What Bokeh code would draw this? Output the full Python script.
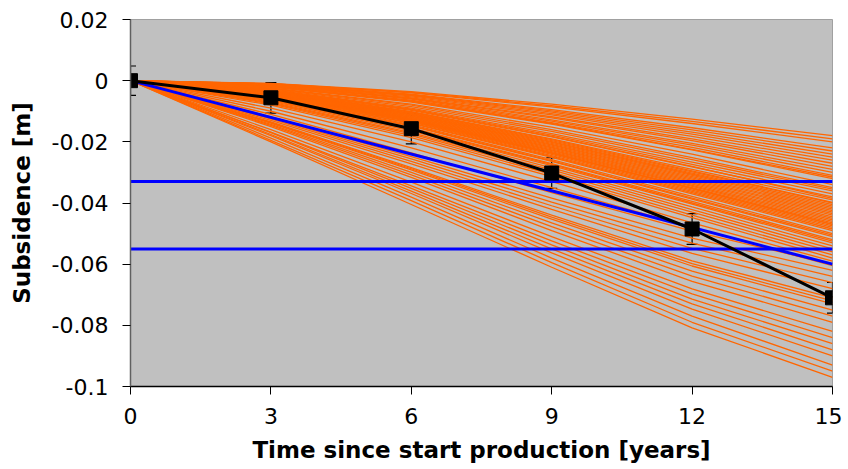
from bokeh.plotting import figure
from bokeh.models import FixedTicker, CustomJSTickFormatter, ColumnDataSource, Whisker, TeeHead, Range1d
from bokeh.embed import file_html
from bokeh.resources import INLINE

# time axis (years)
years = [0, 3, 6, 9, 12, 15]
x_ticks = [0, 3, 6, 9, 12, 15]
y_ticks = [-0.1, -0.08, -0.06, -0.04, -0.02, 0, 0.02]

# measured subsidence with error bars
measured = [0.0, -0.0056, -0.0157, -0.0302, -0.0485, -0.0710]
measured_err = [0.0048, 0.0050, 0.0050, 0.0050, 0.0050, 0.0050]

# reference lines
trend_line = [0.0, -0.060]          # at years 0 and 15
threshold_upper = -0.033
threshold_lower = -0.055

# ensemble of model realisations: values at years 3, 6, 9, 12, 15 (all start at 0)
ensemble = [
    [-0.0009, -0.0036, -0.0077, -0.0126, -0.018],
    [-0.0010, -0.0038, -0.0082, -0.0133, -0.019],
    [-0.0010, -0.0040, -0.0086, -0.0140, -0.020],
    [-0.0011, -0.0044, -0.0095, -0.0154, -0.022],
    [-0.0011, -0.0046, -0.0099, -0.0161, -0.023],
    [-0.0012, -0.0048, -0.0103, -0.0168, -0.024],
    [-0.0013, -0.0050, -0.0108, -0.0175, -0.025],
    [-0.0014, -0.0053, -0.0112, -0.0182, -0.026],
    [-0.0015, -0.0056, -0.0118, -0.0190, -0.027],
    [-0.0016, -0.0058, -0.0122, -0.0196, -0.028],
    [-0.0015, -0.0060, -0.0128, -0.0205, -0.029],
    [-0.0018, -0.0064, -0.0132, -0.0211, -0.030],
    [-0.0019, -0.0067, -0.0137, -0.0218, -0.031],
    [-0.0020, -0.0068, -0.0140, -0.0225, -0.0315],
    [-0.0021, -0.0070, -0.0142, -0.0226, -0.032],
    [-0.0024, -0.0077, -0.0152, -0.0240, -0.034],
    [-0.0025, -0.0080, -0.0160, -0.0252, -0.035],
    [-0.0027, -0.0085, -0.0166, -0.0258, -0.0355],
    [-0.0029, -0.0090, -0.0173, -0.0266, -0.036],
    [-0.0030, -0.0093, -0.0178, -0.0274, -0.037],
    [-0.0032, -0.0097, -0.0184, -0.0282, -0.038],
    [-0.0031, -0.0095, -0.0182, -0.0280, -0.0385],
    [-0.0033, -0.0101, -0.0190, -0.0290, -0.039],
    [-0.0034, -0.0102, -0.0193, -0.0295, -0.0398],
    [-0.0035, -0.0104, -0.0196, -0.0298, -0.040],
    [-0.0036, -0.0106, -0.0199, -0.0302, -0.0405],
    [-0.0037, -0.0108, -0.0202, -0.0306, -0.041],
    [-0.0038, -0.0110, -0.0205, -0.0310, -0.0415],
    [-0.0038, -0.0111, -0.0208, -0.0314, -0.042],
    [-0.0039, -0.0113, -0.0211, -0.0318, -0.0425],
    [-0.0040, -0.0115, -0.0214, -0.0322, -0.043],
    [-0.0041, -0.0117, -0.0217, -0.0326, -0.0435],
    [-0.0042, -0.0119, -0.0220, -0.0330, -0.044],
    [-0.0043, -0.0121, -0.0223, -0.0334, -0.0445],
    [-0.0044, -0.0123, -0.0226, -0.0338, -0.045],
    [-0.0045, -0.0125, -0.0229, -0.0342, -0.0455],
    [-0.0046, -0.0127, -0.0232, -0.0346, -0.046],
    [-0.0047, -0.0129, -0.0235, -0.0350, -0.0465],
    [-0.0048, -0.0131, -0.0238, -0.0354, -0.047],
    [-0.0048, -0.0130, -0.0236, -0.0352, -0.0470],
    [-0.0049, -0.0133, -0.0241, -0.0358, -0.0475],
    [-0.0050, -0.0135, -0.0245, -0.0362, -0.048],
    [-0.0052, -0.0138, -0.0248, -0.0366, -0.0485],
    [-0.0053, -0.0140, -0.0251, -0.0370, -0.049],
    [-0.0055, -0.0144, -0.0258, -0.0378, -0.050],
    [-0.0057, -0.0147, -0.0262, -0.0384, -0.0505],
    [-0.0058, -0.0149, -0.0264, -0.0387, -0.051],
    [-0.0061, -0.0154, -0.0271, -0.0395, -0.052],
    [-0.0062, -0.0156, -0.0274, -0.0400, -0.0525],
    [-0.0064, -0.0159, -0.0278, -0.0404, -0.053],
    [-0.0067, -0.0164, -0.0285, -0.0413, -0.054],
    [-0.0070, -0.0170, -0.0292, -0.0422, -0.055],
    [-0.0073, -0.0174, -0.0299, -0.0430, -0.056],
    [-0.0076, -0.0180, -0.0306, -0.0440, -0.057],
    [-0.0080, -0.0186, -0.0314, -0.0448, -0.058],
    [-0.0090, -0.0200, -0.0330, -0.0465, -0.059],
    [-0.0110, -0.0236, -0.0366, -0.0492, -0.060],
    [-0.0100, -0.0220, -0.0350, -0.0480, -0.0605],
    [-0.0118, -0.0248, -0.0384, -0.0515, -0.062],
    [-0.0122, -0.0256, -0.0397, -0.0531, -0.064],
    [-0.0125, -0.0264, -0.0409, -0.0548, -0.066],
    [-0.0130, -0.0272, -0.0421, -0.0565, -0.068],
    [-0.0135, -0.0284, -0.0440, -0.0589, -0.071],
    [-0.0137, -0.0288, -0.0446, -0.0598, -0.072],
    [-0.0139, -0.0292, -0.0453, -0.0606, -0.073],
    [-0.0143, -0.0300, -0.0465, -0.0623, -0.075],
    [-0.0146, -0.0308, -0.0477, -0.0639, -0.077],
    [-0.0150, -0.0316, -0.0490, -0.0656, -0.079],
    [-0.0160, -0.0332, -0.0510, -0.0681, -0.082],
    [-0.0168, -0.0344, -0.0524, -0.0697, -0.084],
    [-0.0170, -0.0352, -0.0537, -0.0714, -0.086],
    [-0.0176, -0.0361, -0.0550, -0.0730, -0.088],
    [-0.0180, -0.0369, -0.0563, -0.0747, -0.090],
    [-0.0188, -0.0381, -0.0580, -0.0770, -0.093],
    [-0.0195, -0.0392, -0.0595, -0.0790, -0.095],
    [-0.0200, -0.0405, -0.0610, -0.0808, -0.097],
]

FONT = "DejaVu Sans"

p = figure(width=842, height=466, output_backend="svg", toolbar_location=None,
           x_range=Range1d(0, 15), y_range=Range1d(-0.1, 0.02),
           min_border_left=130, min_border_right=10, min_border_top=19, min_border_bottom=80)
p.border_fill_color = "white"
p.background_fill_color = "#C0C0C0"
p.outline_line_color = "#A0A0A0"
p.outline_line_width = 1
p.xgrid.visible = False
p.ygrid.visible = False

# ensemble lines
xs = [years for _ in ensemble]
ys = [[0.0] + row for row in ensemble]
p.multi_line(xs, ys, line_color="#FF6600", line_width=1.3, line_alpha=1.0)

# blue reference lines
p.line([years[0], years[-1]], trend_line, line_color="#0000FF", line_width=3)
p.line([years[0], years[-1]], [threshold_upper, threshold_upper], line_color="#0000FF", line_width=3)
p.line([years[0], years[-1]], [threshold_lower, threshold_lower], line_color="#0000FF", line_width=3)

# measured series
src = ColumnDataSource(dict(x=years, y=measured,
                            lo=[m - e for m, e in zip(measured, measured_err)],
                            hi=[m + e for m, e in zip(measured, measured_err)]))
w = Whisker(source=src, base="x", upper="hi", lower="lo", line_color="black", line_width=1.2,
            upper_head=TeeHead(size=11, line_color="black", line_width=1.2),
            lower_head=TeeHead(size=11, line_color="black", line_width=1.2))
p.add_layout(w)
p.line("x", "y", source=src, line_color="black", line_width=3)
p.scatter("x", "y", source=src, marker="square", size=14, fill_color="black", line_color="black")

# axes
p.xaxis.ticker = FixedTicker(ticks=x_ticks)
p.yaxis.ticker = FixedTicker(ticks=y_ticks)
p.yaxis.formatter = CustomJSTickFormatter(code="""
    if (Math.abs(tick) < 1e-9) return "0";
    return parseFloat(tick.toFixed(2)).toString();
""")
for ax in (p.xaxis[0], p.yaxis[0]):
    ax.major_label_text_font = FONT
    ax.major_label_text_font_size = "22px"
    ax.major_label_text_color = "black"
    ax.axis_label_text_font = FONT
    ax.axis_label_text_font_size = "23px"
    ax.axis_label_text_font_style = "bold"
    ax.axis_label_text_color = "black"
    ax.major_tick_out = 8
    ax.major_tick_in = 0
    ax.minor_tick_out = 0
    ax.minor_tick_in = 0
    ax.major_tick_line_color = "black"
    ax.major_tick_line_width = 1

p.xaxis.axis_label = "Time since start production [years]"
p.yaxis.axis_label = "Subsidence [m]"
p.xaxis.axis_line_color = "black"
p.xaxis.axis_line_width = 1.5
p.yaxis.axis_line_color = "#606060"
p.yaxis.axis_line_width = 1.5
p.xaxis.major_label_standoff = 13
p.xaxis.axis_label_standoff = 10
p.yaxis.major_label_standoff = 14
p.yaxis.axis_label_standoff = 14

open("out.html", "w").write(file_html(p, INLINE))
